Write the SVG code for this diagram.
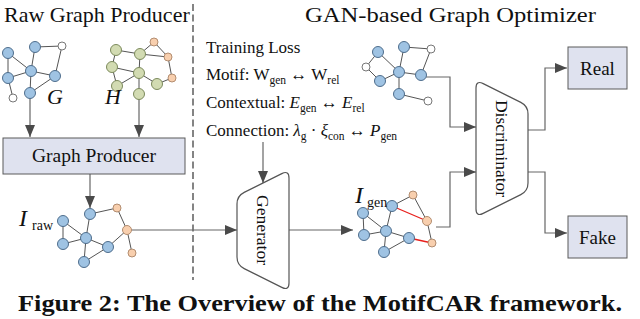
<svg xmlns="http://www.w3.org/2000/svg" width="640" height="319" viewBox="0 0 640 319">
<defs>
<marker id="ah" markerUnits="userSpaceOnUse" markerWidth="12" markerHeight="10" refX="12" refY="5" orient="auto">
<path d="M0,0 L12,5 L0,10 Z" fill="#4a4a4a"/>
</marker>
<style>
text{font-family:"Liberation Serif","Times New Roman",serif;fill:#111}
.ttl{font-size:22px}
.lab{font-size:17px}
.it{font-style:italic}
.sub{font-size:11.5px}
.e{stroke:#555;stroke-width:1;fill:none}
.red{stroke:#e8201c;stroke-width:1.3;fill:none}
.b{fill:#9fc3e3;stroke:#4e6d8c;stroke-width:1}
.g{fill:#d2dbb2;stroke:#7c8a5c;stroke-width:1}
.o{fill:#f8cfae;stroke:#b38d70;stroke-width:1}
.w{fill:#fff;stroke:#777;stroke-width:1}
.c{stroke:#666;stroke-width:1.2;fill:none}
.box{fill:#dfe2ef;stroke:#5a5a5a;stroke-width:1}
.sh{fill:#fff;stroke:#555;stroke-width:1.2}
</style>
</defs>
<rect width="640" height="319" fill="#fff"/>

<text class="ttl" x="4" y="22">Raw Graph Producer</text>
<text class="ttl" x="305" y="22" textLength="291" lengthAdjust="spacingAndGlyphs">GAN-based Graph Optimizer</text>
<line x1="193" y1="4" x2="193" y2="280" stroke="#666" stroke-width="1.6" stroke-dasharray="7,3.5"/>

<g id="connectors">
<polyline class="c" points="30,93 30,137" marker-end="url(#ah)"/>
<polyline class="c" points="139,94 139,137" marker-end="url(#ah)"/>
<polyline class="c" points="90,174 90,208" marker-end="url(#ah)"/>
<polyline class="c" points="131,230 237,230" marker-end="url(#ah)"/>
<polyline class="c" points="263,142 263,183" marker-end="url(#ah)"/>
<polyline class="c" points="289,230 353,230" marker-end="url(#ah)"/>
<polyline class="c" points="426,77 450,77 450,127 476,127" marker-end="url(#ah)"/>
<polyline class="c" points="436,227 450,227 450,172 476,172" marker-end="url(#ah)"/>
<polyline class="c" points="528,130 545,130 545,68 567,68" marker-end="url(#ah)"/>
<polyline class="c" points="528,172 545,172 545,233 567,233" marker-end="url(#ah)"/>
</g>

<g id="graph-G">
<path class="e" d="M8,53 L31,71 M8,53 L8,78 M35,47 L31,71 M35,47 L62,46 M62,46 L55,76 M8,78 L31,71 M31,71 L55,76 M31,71 L30,93 M30,93 L55,76 M8,78 L13,98"/>
<circle class="b" cx="8" cy="53" r="5.5"/>
<circle class="b" cx="35" cy="47" r="5.5"/>
<circle class="w" cx="62" cy="46" r="4"/>
<circle class="b" cx="8" cy="78" r="5.5"/>
<circle class="b" cx="31" cy="71" r="5.5"/>
<circle class="b" cx="55" cy="76" r="5.5"/>
<circle class="w" cx="13" cy="98" r="4"/>
<circle class="b" cx="30" cy="93" r="5.5"/>
<text x="47" y="104" class="it" font-size="22">G</text>
</g>

<g id="graph-H">
<path class="e" d="M116,50 L140,54 M116,50 L112,67 M140,54 L154,42 M140,54 L168,57 M154,42 L168,57 M140,54 L139,73 M112,67 L139,73 M112,67 L117,86 M139,73 L117,86 M139,73 L157,84 M139,73 L139,94 M168,57 L172,78 M172,78 L157,84"/>
<circle class="g" cx="116" cy="50" r="5.5"/>
<circle class="g" cx="140" cy="54" r="5.5"/>
<circle class="o" cx="154" cy="42" r="4"/>
<circle class="o" cx="168" cy="57" r="4"/>
<circle class="g" cx="112" cy="67" r="5.5"/>
<circle class="g" cx="139" cy="73" r="5.5"/>
<circle class="o" cx="172" cy="78" r="4"/>
<circle class="g" cx="117" cy="86" r="5.5"/>
<circle class="g" cx="157" cy="84" r="5.5"/>
<circle class="g" cx="139" cy="94" r="5.5"/>
<text x="105" y="104" class="it" font-size="22">H</text>
</g>

<g id="graph-producer">
<rect class="box" x="3" y="138" width="182" height="36"/>
<text x="94" y="162" text-anchor="middle" font-size="19.5">Graph Producer</text>
</g>

<g id="graph-Iraw">
<path class="e" d="M90,214 L117,208 M117,208 L127,230 M127,230 L132,253 M127,230 L108,247 M90,214 L86,238 M63,221 L86,238 M63,221 L63,244 M63,244 L86,238 M86,238 L108,247 M86,238 L84,262 M84,262 L108,247"/>
<circle class="b" cx="90" cy="214" r="5.5"/>
<circle class="o" cx="117" cy="208" r="4"/>
<circle class="o" cx="127" cy="230" r="4.5"/>
<circle class="o" cx="132" cy="253" r="4"/>
<circle class="b" cx="63" cy="221" r="5.5"/>
<circle class="b" cx="63" cy="244" r="5.5"/>
<circle class="b" cx="86" cy="238" r="5.5"/>
<circle class="b" cx="108" cy="247" r="5.5"/>
<circle class="b" cx="84" cy="262" r="5.5"/>
<text x="19" y="226" class="it" font-size="24">I</text>
<text x="32" y="230" font-size="14">raw</text>
</g>

<g id="training-loss">
<text class="lab" x="206" y="53">Training Loss</text>
<text class="lab" x="206" y="80">Motif:  W<tspan class="sub" dy="4">gen</tspan><tspan dy="-4"> ↔ W</tspan><tspan class="sub" dy="4">rel</tspan></text>
<text class="lab" x="206" y="108">Contextual: <tspan class="it">E</tspan><tspan class="sub" dy="4">gen</tspan><tspan dy="-4"> ↔ </tspan><tspan class="it">E</tspan><tspan class="sub" dy="4">rel</tspan></text>
<text class="lab" x="206" y="136">Connection: <tspan class="it">λ</tspan><tspan class="sub" dy="4">g</tspan><tspan dy="-4"> · </tspan><tspan class="it">ξ</tspan><tspan class="sub" dy="4">con</tspan><tspan dy="-4"> ↔ </tspan><tspan class="it">P</tspan><tspan class="sub" dy="4">gen</tspan></text>
</g>

<g id="graph-real">
<path class="e" d="M378,52 L399,72 M378,52 L366,67 M366,67 L380,81 M380,81 L399,72 M404,47 L399,72 M404,47 L431,49 M431,49 L421,75 M399,72 L421,75 M399,72 L399,94 M399,94 L428,101"/>
<circle class="b" cx="378" cy="52" r="5.5"/>
<circle class="b" cx="404" cy="47" r="5.5"/>
<circle class="w" cx="431" cy="49" r="4"/>
<circle class="w" cx="366" cy="67" r="4"/>
<circle class="b" cx="380" cy="81" r="5.5"/>
<circle class="b" cx="399" cy="72" r="5.5"/>
<circle class="b" cx="421" cy="75" r="5.5"/>
<circle class="b" cx="399" cy="94" r="5.5"/>
<circle class="w" cx="428" cy="101" r="4"/>
</g>

<g id="generator">
<path class="sh" d="M237,204 Q237,196 244.2,192.4 L281.8,173.6 Q289,170 289,178 L289,283 Q289,291 281.8,287.4 L244.2,268.6 Q237,265 237,257 Z"/>
<text transform="translate(263,230) rotate(90)" text-anchor="middle" dominant-baseline="central" font-size="17.5">Generator</text>
</g>

<g id="graph-Igen">
<path class="e" d="M392,206 L413,195 M413,195 L427,221 M427,221 L432,243 M363,213 L364,235 M363,213 L386,231 M364,235 L386,231 M392,206 L386,231 M386,231 L409,238 M386,231 L384,252 M384,252 L409,238"/>
<path class="red" d="M392,206 L427,221 M409,238 L432,243"/>
<circle class="b" cx="392" cy="206" r="5.5"/>
<circle class="o" cx="413" cy="195" r="4"/>
<circle class="o" cx="427" cy="221" r="4.5"/>
<circle class="o" cx="432" cy="243" r="4"/>
<circle class="b" cx="363" cy="213" r="5.5"/>
<circle class="b" cx="364" cy="235" r="5.5"/>
<circle class="b" cx="386" cy="231" r="5.5"/>
<circle class="b" cx="409" cy="238" r="5.5"/>
<circle class="b" cx="384" cy="252" r="5.5"/>
<text x="355" y="203" class="it" font-size="24">I</text>
<text x="367" y="207" font-size="14">gen</text>
</g>

<g id="discriminator">
<path class="sh" d="M476,88 Q476,80 483.2,83.6 L520.8,102.4 Q528,106 528,114 L528,183 Q528,191 520.8,194.6 L483.2,213.4 Q476,217 476,209 Z"/>
<text transform="translate(502,148.5) rotate(90)" text-anchor="middle" dominant-baseline="central" font-size="17.5">Discriminator</text>
</g>

<g id="real">
<rect class="box" x="568" y="47" width="59" height="42"/>
<text x="597.5" y="74.5" text-anchor="middle" font-size="19">Real</text>
</g>

<g id="fake">
<rect class="box" x="568" y="216" width="59" height="42"/>
<text x="597.5" y="243.5" text-anchor="middle" font-size="19">Fake</text>
</g>

<text x="320" y="311" text-anchor="middle" font-size="24" font-weight="bold" textLength="604" lengthAdjust="spacingAndGlyphs">Figure 2: The Overview of the MotifCAR framework.</text>
</svg>
